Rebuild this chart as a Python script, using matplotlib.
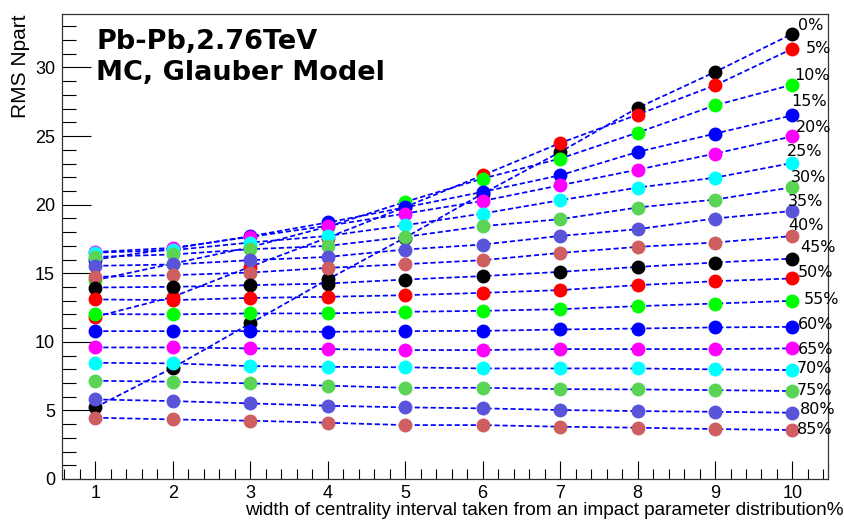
import matplotlib
matplotlib.use("Agg")
import matplotlib.pyplot as plt
from matplotlib.ticker import MultipleLocator

widths = [1, 2, 3, 4, 5, 6, 7, 8, 9, 10]
centrality = ["0%", "5%", "10%", "15%", "20%", "25%", "30%", "35%", "40%",
              "45%", "50%", "55%", "60%", "65%", "70%", "75%", "80%", "85%"]

rms_00 = [5.22, 8.11, 11.34, 14.55, 17.6, 20.8, 23.84, 27.05, 29.67, 32.46]
rms_05 = [11.82, 13.28, 15.47, 17.6, 19.83, 22.14, 24.49, 26.56, 28.7, 31.37]
rms_10 = [14.5, 15.7, 16.9, 18.4, 20.2, 21.9, 23.36, 25.25, 27.24, 28.75]
rms_15 = [16.0, 16.8, 17.7, 18.7, 19.8, 20.93, 22.14, 23.84, 25.18, 26.51]
rms_20 = [16.55, 16.85, 17.65, 18.46, 19.35, 20.27, 21.41, 22.55, 23.72, 24.98]
rms_25 = [16.5, 16.68, 17.24, 17.72, 18.5, 19.35, 20.32, 21.24, 21.97, 23.04]
rms_30 = [16.19, 16.37, 16.75, 16.99, 17.65, 18.43, 18.94, 19.79, 20.37, 21.27]
rms_35 = [15.54, 15.64, 15.95, 16.19, 16.73, 17.09, 17.72, 18.21, 18.99, 19.54]
rms_40 = [14.74, 14.86, 15.05, 15.39, 15.66, 15.95, 16.48, 16.92, 17.24, 17.71]
rms_45 = [13.96, 14.01, 14.13, 14.25, 14.54, 14.79, 15.10, 15.46, 15.78, 16.07]
rms_50 = [13.09, 13.04, 13.2, 13.28, 13.40, 13.57, 13.77, 14.13, 14.42, 14.62]
rms_55 = [12.02, 12.0, 12.07, 12.07, 12.19, 12.26, 12.38, 12.60, 12.79, 12.99]
rms_60 = [10.78, 10.78, 10.78, 10.73, 10.78, 10.80, 10.90, 10.97, 11.05, 11.09]
rms_65 = [9.59, 9.59, 9.52, 9.47, 9.40, 9.40, 9.47, 9.47, 9.47, 9.52]
rms_70 = [8.47, 8.43, 8.23, 8.18, 8.14, 8.06, 8.06, 8.06, 7.99, 7.94]
rms_75 = [7.16, 7.09, 6.97, 6.80, 6.65, 6.65, 6.55, 6.53, 6.48, 6.41]
rms_80 = [5.80, 5.68, 5.51, 5.34, 5.22, 5.15, 5.03, 4.95, 4.90, 4.83]
rms_85 = [4.47, 4.34, 4.25, 4.10, 3.93, 3.93, 3.81, 3.74, 3.64, 3.57]

series = [rms_00, rms_05, rms_10, rms_15, rms_20, rms_25, rms_30, rms_35, rms_40,
          rms_45, rms_50, rms_55, rms_60, rms_65, rms_70, rms_75, rms_80, rms_85]

# ROOT palette 1,2,3,4,6,7,8,9,46 repeated
colors = ["black", "#ff0000", "#00ff00", "#0000ff", "#ff00ff", "#00ffff",
          "#59d454", "#5954d9", "#cf5e61"] * 2

# label placement (offset from last point, data units)
label_dx = [0.07, 0.17, 0.02, -0.02, 0.04, -0.07, -0.02, -0.06, -0.06,
            0.10, 0.07, 0.14, 0.07, 0.07, 0.06, 0.06, 0.10, 0.06]
label_dy = [0.6, 0.05, 0.65, 1.0, 0.65, 0.85, 0.7, 0.7, 0.8,
            0.83, 0.4, 0.1, 0.2, -0.05, 0.14, 0.07, 0.27, 0.07]

narrow = ["Liberation Sans Narrow", "Liberation Sans", "DejaVu Sans"]

fig = plt.figure(figsize=(8.45, 5.22), dpi=100)
ax = fig.add_axes([0.0734, 0.0824, 0.9066, 0.8908])

for i, vals in enumerate(series):
    ax.plot(widths, vals, linestyle=(0, (3, 1.6)), color="#0000ff", lw=1.25,
            zorder=2 + 2 * i)
    ax.plot(widths, vals, linestyle="none", marker="o", ms=9,
            color=colors[i], mec=colors[i], zorder=3 + 2 * i)
    ax.text(widths[-1] + label_dx[i], vals[-1] + label_dy[i], centrality[i],
            fontsize=11.5, ha="left", va="center", zorder=100)

ax.set_xlim(0.57, 10.46)
ax.set_ylim(0, 33.9)

ax.xaxis.set_major_locator(MultipleLocator(1))
ax.xaxis.set_minor_locator(MultipleLocator(0.2))
ax.yaxis.set_major_locator(MultipleLocator(5))
ax.yaxis.set_minor_locator(MultipleLocator(1))
ax.tick_params(axis="x", which="major", direction="in", length=13, width=0.8,
               pad=4, labelsize=13)
ax.tick_params(axis="x", which="minor", direction="in", length=7, width=0.8)
ax.tick_params(axis="y", which="major", direction="in", length=21, width=0.8,
               pad=5, labelsize=13)
ax.tick_params(axis="y", which="minor", direction="in", length=10, width=0.8)
for lab in ax.get_xticklabels() + ax.get_yticklabels():
    lab.set_family(narrow)

for sp in ax.spines.values():
    sp.set_linewidth(0.9)
    sp.set_color("#333333")

ax.text(0.045, 0.94, "Pb-Pb,2.76TeV", transform=ax.transAxes,
        fontsize=19.5, fontweight="bold", va="center", ha="left")
ax.text(0.045, 0.873, "MC, Glauber Model", transform=ax.transAxes,
        fontsize=19.5, fontweight="bold", va="center", ha="left")

fig.text(0.998, 0.022, "width of centrality interval taken from an impact parameter distribution%",
         ha="right", va="center", fontsize=13.7, family=narrow)
fig.text(0.024, 0.973, "RMS Npart", rotation=90, ha="center", va="top",
         fontsize=15, family=["Liberation Sans", "DejaVu Sans"])

fig.savefig("out.png", dpi=100)
